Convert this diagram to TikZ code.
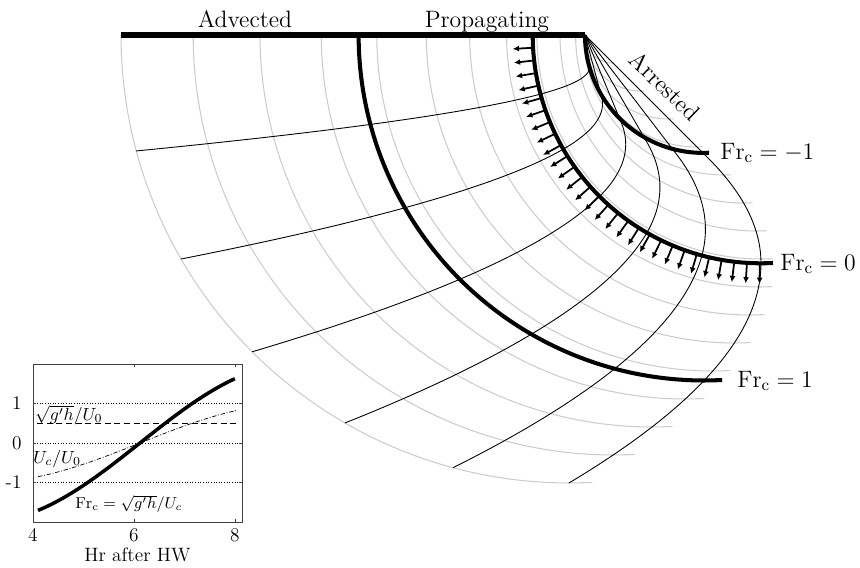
\RequirePackage{fix-cm}
\documentclass[tikz,border=0pt]{standalone}
\usepackage{fontspec}
\usepackage{tikz}
\usetikzlibrary{arrows.meta}
\tikzstyle{coast} = [line width=3pt]
\tikzstyle{front} = [black!20, line width=0.6pt]
\tikzstyle{track} = [black, line width=0.5pt]
\tikzstyle{frc} = [line width=2.3pt]
\tikzstyle{spread} = [line width=1pt, -{Latex[length=3.6pt,width=3.4pt]}]
\tikzstyle{lbl} = [font=\fontsize{13.5}{16}\selectfont, inner sep=0pt]
\tikzstyle{ticklbl} = [font=\fontsize{11}{13}\selectfont, inner sep=0pt]
\tikzstyle{curvelbl} = [font=\fontsize{10}{12}\selectfont, inner sep=0pt]

\begin{document}
\begin{tikzpicture}[x=0.02cm, y=-0.02cm,
  declare function={du(\s)=(\s-228.3)/100;
    fc(\s)=(\s<123.7) ? \s : ((\s<228.3) ? (176-47.8*du(\s)*du(\s)) : (176-43.3*du(\s)*du(\s)+1.6*du(\s)*du(\s)*du(\s)));}]
  \useasboundingbox (0,0) rectangle (860,568);

  % front every quarter hour
  \foreach \rr in {28,56,...,448}
    \draw[front] plot[domain=180:87, samples=40, smooth] ({585+fc(\rr)+\rr*cos(\x)}, {35+\rr*sin(\x)});

  % points on the front
  \foreach \a in {90,105,...,165}
    \draw[track] plot[domain=0:448, samples=90, smooth] ({585+fc(\x)+\x*cos(\a)}, {35+\x*sin(\a)});

  % fronts at Fr_c = -1, 0, 1
  \foreach \rr in {117.9,228.3,345.5}
    \draw[frc] plot[domain=180:87, samples=50, smooth] ({585+fc(\rr)+\rr*cos(\x)}, {35+\rr*sin(\x)});

  % spreading at Fr_c = 0
  \foreach \a in {176.8,173.6,...,90}
    \draw[spread] ({761.3+230*cos(\a)}, {35+230*sin(\a)}) -- ({761.3+249*cos(\a)}, {35+249*sin(\a)});

  \draw[coast] (121,35) -- (585,35);

  \node[lbl, anchor=base] (adv) at (245,28) {Advected};
  \node[lbl, anchor=base] (prop) at (487,28) {Propagating};
  \node[lbl, rotate=-44] (arr) at (665,86) {Arrested};
  \node[lbl, anchor=base west] (frm) at (720,159) {$\mathrm{Fr_c}=-1$};
  \node[lbl, anchor=base west] (frz) at (780,270) {$\mathrm{Fr_c}=0$};
  \node[lbl, anchor=base west] (frp) at (737,387) {$\mathrm{Fr_c}=1$};

  % inset: tidal current
  \begin{scope}[shift={(-169,443)}, x=1.01cm, y=0.79cm]
    \draw[fill=white, draw=black!75, line width=0.5pt] (4,-2) rectangle (8.15,2);
    \foreach \v in {-1,0,1} {
      \draw[densely dotted, line width=0.5pt] (4.08,\v) -- (8.05,\v);
      \draw[black!75, line width=0.4pt] (4,\v) -- (4.06,\v) (8.15,\v) -- (8.09,\v);
    }
    \foreach \t in {6,8}
      \draw[black!75, line width=0.4pt] (\t,-2) -- (\t,-1.92) (\t,2) -- (\t,1.92);
    \draw[dashed, dash pattern=on 3.5pt off 2pt, line width=0.6pt] (4.08,0.5) -- (8.05,0.5);
    \draw[line width=0.4pt, dash pattern=on 2.5pt off 1pt on 0.5pt off 1pt] plot[domain=4.1:8.05, samples=40, smooth] (\x, {sin(29*(\x-6.12))});
    \draw[line width=2pt] plot[domain=4.1:8.0, samples=40, smooth] (\x, {2*sin(29*(\x-6.12))});

    \node[ticklbl, anchor=north] (t4) at (4,-2.16) {4};
    \node[ticklbl, anchor=north] (t6) at (6,-2.16) {6};
    \node[ticklbl, anchor=north] (t8) at (8,-2.16) {8};
    \node[ticklbl, anchor=east] (v1) at (3.78,1) {1};
    \node[ticklbl, anchor=east] (v0) at (3.78,0) {0};
    \node[ticklbl, anchor=east] (vm) at (3.78,-1) {-1};
    \node[ticklbl, anchor=base] (hr) at (6.07,-2.99) {Hr after HW};

    \node[curvelbl] (gh) at (4.71,0.71) {$\sqrt{g'h}/U_0$};
    \node[curvelbl] (uc) at (4.48,-0.4) {$U_c/U_0$};
    \node[curvelbl, font=\fontsize{9}{11}\selectfont] (fr) at (5.9,-1.54) {$\mathrm{Fr_c}=\sqrt{g'h}/U_c$};
  \end{scope}
\end{tikzpicture}
\end{document}
